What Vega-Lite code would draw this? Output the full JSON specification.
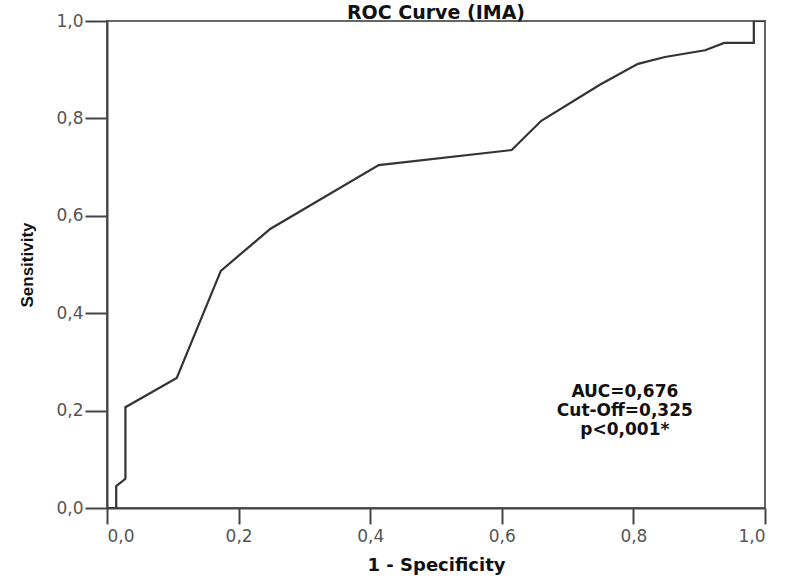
{
  "$schema": "https://vega.github.io/schema/vega-lite/v6.json",
  "width": 658,
  "height": 487,
  "autosize": {"type": "none"},
  "padding": {"left": 107, "top": 21, "right": 20, "bottom": 79},
  "background": "white",
  "config": {
    "view": {"stroke": "#666", "strokeWidth": 2},
    "axis": {
      "grid": false,
      "domainColor": "#444",
      "domainWidth": 2,
      "tickColor": "#444",
      "tickWidth": 2,
      "labelFont": "DejaVu Sans",
      "labelFontSize": 17,
      "labelColor": "#555",
      "titleFont": "DejaVu Sans",
      "titleFontSize": 18,
      "titleFontWeight": "bold",
      "titleColor": "#111"
    }
  },
  "datasets": {
    "roc": [
      {"i": 0, "fpr": 0.0, "tpr": 0.0},
      {"i": 1, "fpr": 0.014, "tpr": 0.0},
      {"i": 2, "fpr": 0.014, "tpr": 0.045},
      {"i": 3, "fpr": 0.028, "tpr": 0.06},
      {"i": 4, "fpr": 0.028, "tpr": 0.207},
      {"i": 5, "fpr": 0.106, "tpr": 0.267},
      {"i": 6, "fpr": 0.173, "tpr": 0.487},
      {"i": 7, "fpr": 0.248, "tpr": 0.573},
      {"i": 8, "fpr": 0.413, "tpr": 0.704},
      {"i": 9, "fpr": 0.615, "tpr": 0.735},
      {"i": 10, "fpr": 0.66, "tpr": 0.795},
      {"i": 11, "fpr": 0.749, "tpr": 0.869},
      {"i": 12, "fpr": 0.807, "tpr": 0.912},
      {"i": 13, "fpr": 0.848, "tpr": 0.926},
      {"i": 14, "fpr": 0.909, "tpr": 0.94},
      {"i": 15, "fpr": 0.938, "tpr": 0.955},
      {"i": 16, "fpr": 0.983, "tpr": 0.955},
      {"i": 17, "fpr": 0.983, "tpr": 1.0},
      {"i": 18, "fpr": 1.0, "tpr": 1.0}
    ],
    "notes": [
      {"x": 0.787, "y": 0.238, "label": "AUC=0,676"},
      {"x": 0.787, "y": 0.199, "label": "Cut-Off=0,325"},
      {"x": 0.787, "y": 0.160, "label": "p<0,001*"}
    ],
    "heading": [
      {"x": 0.5, "y": 1.0, "label": "ROC Curve (IMA)"}
    ]
  },
  "layer": [
    {
      "data": {"name": "roc"},
      "mark": {"type": "line", "color": "#333", "strokeWidth": 2.2, "clip": true},
      "encoding": {
        "x": {
          "field": "fpr", "type": "quantitative",
          "scale": {"domain": [0, 1], "nice": false},
          "axis": {"values": [0, 0.2, 0.4, 0.6, 0.8, 1.0], "format": ".1f", "labelExpr": "replace(datum.label, '.', ',')", "tickSize": 16, "labelPadding": 4, "title": "1 - Specificity", "titlePadding": 12}
        },
        "y": {
          "field": "tpr", "type": "quantitative",
          "scale": {"domain": [0, 1], "nice": false},
          "axis": {"values": [0, 0.2, 0.4, 0.6, 0.8, 1.0], "format": ".1f", "labelExpr": "replace(datum.label, '.', ',')", "tickSize": 22, "labelPadding": 2, "title": "Sensitivity", "titleFont": "Liberation Sans", "titleFontSize": 17, "titlePadding": 19}
        },
        "order": {"field": "i", "type": "quantitative"}
      }
    },
    {
      "data": {"name": "notes"},
      "mark": {"type": "text", "font": "DejaVu Sans", "fontSize": 17, "fontWeight": "bold", "color": "#111", "align": "center", "baseline": "middle"},
      "encoding": {
        "x": {"field": "x", "type": "quantitative"},
        "y": {"field": "y", "type": "quantitative"},
        "text": {"field": "label", "type": "nominal"}
      }
    },
    {
      "data": {"name": "heading"},
      "mark": {"type": "text", "font": "DejaVu Sans", "fontSize": 19, "fontWeight": "bold", "color": "#111", "align": "center", "baseline": "alphabetic", "dy": -2},
      "encoding": {
        "x": {"field": "x", "type": "quantitative"},
        "y": {"field": "y", "type": "quantitative"},
        "text": {"field": "label", "type": "nominal"}
      }
    }
  ]
}
